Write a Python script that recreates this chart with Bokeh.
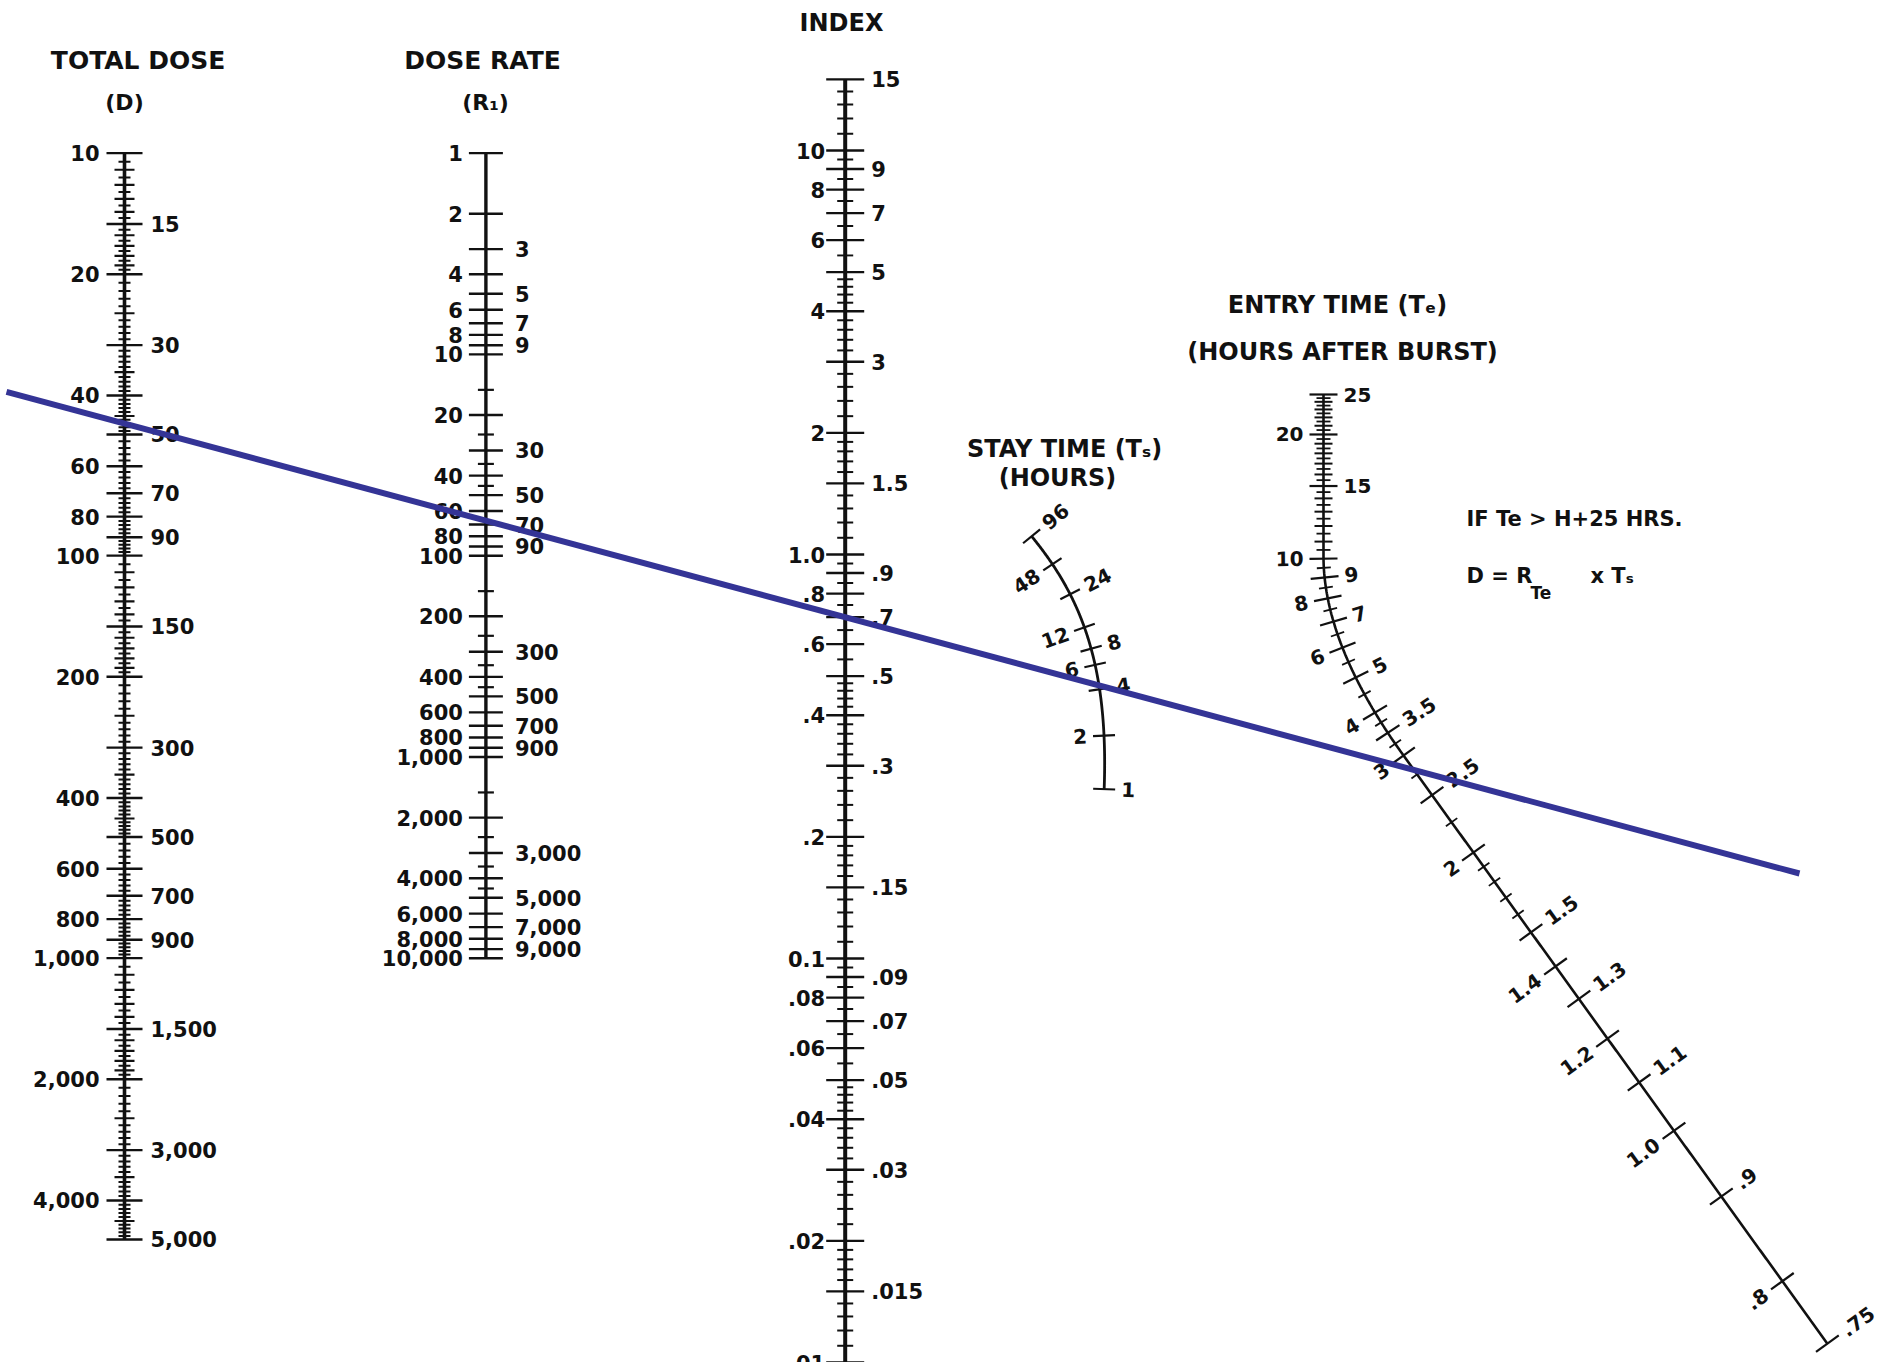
import math
import numpy as np
from bokeh.plotting import figure
from bokeh.models import Range1d, ColumnDataSource
from bokeh.core.properties import value
from bokeh.embed import file_html
from bokeh.resources import INLINE

# ---------------- chart values ----------------
DOSE_LEFT = [10, 20, 40, 60, 80, 100, 200, 400, 600, 800, 1000, 2000, 4000]
DOSE_RIGHT = [15, 30, 50, 70, 90, 150, 300, 500, 700, 900, 1500, 3000, 5000]
RATE_LEFT = [1, 2, 4, 6, 8, 10, 20, 40, 60, 80, 100, 200, 400, 600, 800,
             1000, 2000, 4000, 6000, 8000, 10000]
RATE_RIGHT = [3, 5, 7, 9, 30, 50, 70, 90, 300, 500, 700, 900, 3000, 5000, 7000, 9000]
INDEX_LEFT = [10, 8, 6, 4, 2, 1.0, 0.8, 0.6, 0.4, 0.2, 0.1, 0.08, 0.06, 0.04, 0.02, 0.01]
INDEX_LEFT_TXT = ["10", "8", "6", "4", "2", "1.0", ".8", ".6", ".4", ".2",
                  "0.1", ".08", ".06", ".04", ".02", ".01"]
INDEX_RIGHT = [15, 9, 7, 5, 3, 1.5, 0.9, 0.7, 0.5, 0.3, 0.15, 0.09, 0.07, 0.05, 0.03, 0.015]
INDEX_RIGHT_TXT = ["15", "9", "7", "5", "3", "1.5", ".9", ".7", ".5", ".3",
                   ".15", ".09", ".07", ".05", ".03", ".015"]
STAY_LEFT = [48, 12, 6, 2]
STAY_RIGHT = [96, 24, 8, 4, 1]
ENTRY_LEFT = [20, 10, 8, 6, 4, 3, 2, 1.4, 1.2, 1.0, 0.8]
ENTRY_LEFT_TXT = ["20", "10", "8", "6", "4", "3", "2", "1.4", "1.2", "1.0", ".8"]
ENTRY_RIGHT = [25, 15, 9, 7, 5, 3.5, 2.5, 1.5, 1.3, 1.1, 0.9, 0.75]
ENTRY_RIGHT_TXT = ["25", "15", "9", "7", "5", "3.5", "2.5", "1.5", "1.3", "1.1", ".9", ".75"]
# isopleth (example reading drawn on the chart)
ISO_DOSE = 47
ISO_RATE = 67

# ---------------- scale geometry (nomogram calibration) ----------------
DOSE_X, RATE_X, INDEX_X = 124.0, 485.4, 844.7


def dose_y(v):
    return 152.6 + 402.5 * np.log10(np.asarray(v, dtype=float) / 10.0)


def rate_y(v):
    return 152.6 + 201.3 * np.log10(np.asarray(v, dtype=float))


def index_y(v):
    return 554.0 - 404.0 * np.log10(np.asarray(v, dtype=float))


# stay-time curved scale calibration (hours -> point)
STAY_CAL_H = [1, 2, 4, 6, 8, 12, 24, 48, 96]
STAY_CAL_X = [1104, 1103, 1098, 1096, 1091, 1083.5, 1070, 1051, 1031.5]
STAY_CAL_Y = [788.5, 735.5, 689, 663, 648, 628, 594, 563, 536]
_u = np.log2(STAY_CAL_H)
_cx = np.polyfit(_u, STAY_CAL_X, 3)
_cy = np.polyfit(_u, STAY_CAL_Y, 3)


def stay_pt(v):
    u = np.log2(v)
    x, y = np.polyval(_cx, u), np.polyval(_cy, u)
    dx, dy = np.polyval(np.polyder(_cx), u), np.polyval(np.polyder(_cy), u)
    tx, ty = -dx, -dy
    n = math.hypot(tx, ty)
    return x, y, tx / n, ty / n


# entry-time scale: vertical part, bend, straight diagonal
E_TOP = (1323.0, 394.0)
E_B0 = (1323.0, 556.0)
E_B1 = (1323.0, 644.0)
E_B2 = (1403.0, 755.0)
ENTRY_CAL_H = [3, 2.5, 2, 1.5, 1.4, 1.3, 1.2, 1.1, 1.0, 0.9, 0.8, 0.75]
ENTRY_CAL_OFF = [0, 48.8, 119.6, 218, 260, 300, 349, 403, 462.6, 543.6, 648, 725]

_px = list(np.full(80, E_TOP[0]))
_py = list(np.linspace(E_TOP[1], E_B0[1], 80))
_t = np.linspace(0, 1, 200)[1:]
_px += list((1 - _t) ** 2 * E_B0[0] + 2 * (1 - _t) * _t * E_B1[0] + _t ** 2 * E_B2[0])
_py += list((1 - _t) ** 2 * E_B0[1] + 2 * (1 - _t) * _t * E_B1[1] + _t ** 2 * E_B2[1])
_d = np.array([E_B2[0] - E_B1[0], E_B2[1] - E_B1[1]])
_d = _d / np.hypot(*_d)
_L = np.linspace(0, 740, 200)[1:]
_px += list(E_B2[0] + _d[0] * _L)
_py += list(E_B2[1] + _d[1] * _L)
_px, _py = np.array(_px), np.array(_py)
_cum = np.concatenate([[0], np.cumsum(np.hypot(np.diff(_px), np.diff(_py)))])
_s3 = _cum[80 + 198]
_cal_v = [25] + ENTRY_CAL_H
_cal_s = [0] + [_s3 + o for o in ENTRY_CAL_OFF]
_cal_k = -np.log10(_cal_v)


def entry_s(v):
    return float(np.interp(-math.log10(v), _cal_k, _cal_s))


def path_at(s):
    return float(np.interp(s, _cum, _px)), float(np.interp(s, _cum, _py))


def entry_pt(v):
    s = entry_s(v)
    x, y = path_at(s)
    x0, y0 = path_at(s - 2)
    x1, y1 = path_at(s + 2)
    n = math.hypot(x1 - x0, y1 - y0)
    return x, y, (x1 - x0) / n, (y1 - y0) / n


# ---------------- figure ----------------
W, H = 1884, 1362
p = figure(width=W, height=H, x_range=Range1d(0, W), y_range=Range1d(H, 0),
           output_backend="svg", toolbar_location=None, x_axis_type=None, y_axis_type=None,
           min_border=0, outline_line_color=None,
           background_fill_color="white", border_fill_color="white")
p.grid.visible = False

FONT = value("DejaVu Sans")
INK = "#111111"


def add_text(xs, ys, texts, size, align="center", angles=None, baseline="middle"):
    if angles is None:
        angles = [0.0] * len(xs)
    src = ColumnDataSource(dict(x=list(xs), y=list(ys), t=list(texts), a=list(angles)))
    p.text(x="x", y="y", text="t", angle="a", source=src, text_font=FONT,
           text_font_style="bold", text_font_size=size, text_align=align,
           text_baseline=baseline, text_color=INK)


def add_segs(x0, y0, x1, y1, w):
    src = ColumnDataSource(dict(x0=list(x0), y0=list(y0), x1=list(x1), y1=list(y1)))
    p.segment(x0="x0", y0="y0", x1="x1", y1="y1", source=src, line_width=w,
              line_color=INK, line_cap="butt")


def is_labeled(v, labeled):
    return any(abs(v - l) <= 1e-6 * max(1.0, abs(l)) for l in labeled)


def log_minors(lo, hi, labeled, specs):
    med, small = [], []
    for e in range(int(math.floor(math.log10(lo))) - 1, int(math.ceil(math.log10(hi))) + 1):
        b = 10.0 ** e
        for a0, a1, step, mstep in specs:
            for m in np.arange(a0, a1 - 1e-9, step):
                m = round(m, 4)
                v = round(b * m, 10)
                if v < lo * 0.9999 or v > hi * 1.0001 or is_labeled(v, labeled):
                    continue
                q = m / mstep
                (med if abs(q - round(q)) < 1e-6 else small).append(v)
    return med, small


def vertical_scale(x, yf, lo, hi, left, left_txt, right, right_txt, med, small,
                   L_major, L_med, L_small, gapL, gapR, axis_w, y_end=None):
    ya, yb = float(yf(lo)), float(yf(hi))
    if y_end is not None:
        ya = y_end
    p.line([x, x], [ya, yb], line_width=axis_w, line_color=INK)
    labeled = list(left) + list(right)
    ys = yf(labeled)
    add_segs([x - L_major] * len(ys), ys, [x + L_major] * len(ys), ys, 2.4)
    if med:
        ys = yf(med)
        add_segs([x - L_med] * len(ys), ys, [x + L_med] * len(ys), ys, 2.2)
    if small:
        ys = yf(small)
        add_segs([x - L_small] * len(ys), ys, [x + L_small] * len(ys), ys, 2.0)
    add_text([x - gapL] * len(left), yf(left), left_txt, "21px", align="right")
    add_text([x + gapR] * len(right), yf(right), right_txt, "21px", align="left")


def fmt_int(v):
    return "{:,}".format(int(round(v)))


# Total dose
d_med, d_small = log_minors(10, 5000, DOSE_LEFT + DOSE_RIGHT,
                            [(1.0, 2.0, 0.05, 0.1), (2.0, 5.0, 0.1, 0.5), (5.0, 10.0, 0.2, 1.0)])
vertical_scale(DOSE_X, dose_y, 10, 5000, DOSE_LEFT, [fmt_int(v) for v in DOSE_LEFT],
               DOSE_RIGHT, [fmt_int(v) for v in DOSE_RIGHT], d_med, d_small,
               18, 10, 6, 25, 26, 3.6)

# Dose rate
r_minor = []
for e in range(1, 4):
    for m in (1.5, 2.5, 3.5, 4.5):
        r_minor.append(m * 10 ** e)
vertical_scale(RATE_X, rate_y, 1, 10000, RATE_LEFT, [fmt_int(v) for v in RATE_LEFT],
               RATE_RIGHT, [fmt_int(v) for v in RATE_RIGHT], r_minor, [],
               17, 8, 6, 23, 29, 3.4)

# Index
i_med, i_small = log_minors(0.01, 15, INDEX_LEFT + INDEX_RIGHT,
                            [(1.0, 2.0, 0.1, 0.5), (2.0, 5.0, 0.2, 1.0), (5.0, 10.0, 0.5, 1.0)])
vertical_scale(INDEX_X, index_y, 0.01, 15, INDEX_LEFT, INDEX_LEFT_TXT,
               INDEX_RIGHT, INDEX_RIGHT_TXT, i_med, i_small,
               19, 11, 8, 20, 26, 4.0, y_end=1400)


# ---- curved scales ----
def curve_ticks(ptf, vals, L, w):
    x0, y0, x1, y1 = [], [], [], []
    for v in vals:
        x, y, tx, ty = ptf(v)
        nx, ny = ty, -tx
        x0.append(x - nx * L); y0.append(y - ny * L)
        x1.append(x + nx * L); y1.append(y + ny * L)
    add_segs(x0, y0, x1, y1, w)


def curve_labels(ptf, vals, txts, side, gap, size):
    xs, ys, angs = [], [], []
    for v in vals:
        x, y, tx, ty = ptf(v)
        nx, ny = ty, -tx
        xs.append(x + side * nx * gap)
        ys.append(y + side * ny * gap)
        angs.append(math.atan2(-ny, nx))
    add_text(xs, ys, txts, size, align="left" if side > 0 else "right", angles=angs)


# Stay time
uu = np.linspace(0, math.log2(96), 200)
p.line(np.polyval(_cx, uu), np.polyval(_cy, uu), line_width=2.8, line_color=INK)
curve_ticks(stay_pt, STAY_LEFT + STAY_RIGHT, 11, 2.2)
curve_labels(stay_pt, STAY_LEFT, [str(v) for v in STAY_LEFT], -1, 17, "20px")
curve_labels(stay_pt, STAY_RIGHT, [str(v) for v in STAY_RIGHT], 1, 17, "20px")

# Entry time
s_end = entry_s(0.75)
ss = np.linspace(0, s_end, 600)
p.line([path_at(s)[0] for s in ss], [path_at(s)[1] for s in ss], line_width=2.6, line_color=INK)
e_lab = ENTRY_LEFT + ENTRY_RIGHT
e_med, e_small = [], []
for v in list(np.arange(10.5, 25.0, 0.5)) + list(np.arange(4.5, 10.0, 1.0)) + [3.25, 3.75, 2.25, 2.75, 1.6, 1.7, 1.8, 1.9]:
    v = round(float(v), 4)
    if is_labeled(v, e_lab):
        continue
    (e_med if abs(v - round(v)) < 1e-6 else e_small).append(v)
curve_ticks(entry_pt, e_lab, 14, 2.2)
curve_ticks(entry_pt, e_med, 9, 2.0)
curve_ticks(entry_pt, e_small, 7, 1.8)
curve_labels(entry_pt, ENTRY_LEFT, ENTRY_LEFT_TXT, -1, 20, "20px")
curve_labels(entry_pt, ENTRY_RIGHT, ENTRY_RIGHT_TXT, 1, 20, "20px")

# ---- titles and notes ----
add_text([137.6], [60], ["TOTAL DOSE"], "25px")
add_text([124], [102], ["(D)"], "22px")
add_text([482], [60], ["DOSE RATE"], "25px")
add_text([485], [102], ["(R\u2081)"], "22px")
add_text([841], [22], ["INDEX"], "24px")
add_text([1064], [448], ["STAY TIME (T\u209b)"], "24px")
add_text([1057], [477], ["(HOURS)"], "24px")
add_text([1337], [304], ["ENTRY TIME (T\u2091)"], "24px")
add_text([1342], [351], ["(HOURS AFTER BURST)"], "24px")
add_text([1466], [518], ["IF Te > H+25 HRS."], "21px", align="left")
add_text([1466], [575], ["D = R"], "21px", align="left")
add_text([1530], [592], ["Te"], "17px", align="left")
add_text([1590], [575], ["x T\u209b"], "21px", align="left")

# ---- isopleth ----
xa, xb = 6.0, 1799.0
ya0, yb0 = float(dose_y(ISO_DOSE)), float(rate_y(ISO_RATE))
slope = (yb0 - ya0) / (RATE_X - DOSE_X)
p.line([xa, xb], [ya0 + slope * (xa - DOSE_X), ya0 + slope * (xb - DOSE_X)],
       line_width=6, line_color="#343496")

open("out.html", "w").write(file_html(p, INLINE))
